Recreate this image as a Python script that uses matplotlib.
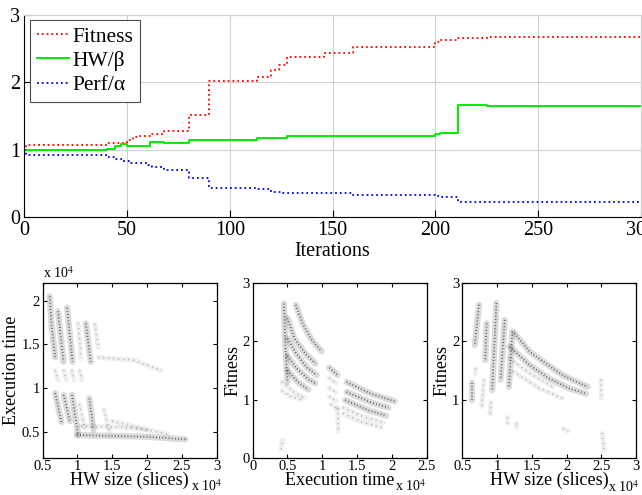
import matplotlib
matplotlib.use('Agg')
import matplotlib.pyplot as plt

plt.rcParams['font.family'] = ['Liberation Serif', 'DejaVu Serif']
plt.rcParams['mathtext.fontset'] = 'stix'

# ---- top panel: step curves (iteration where value changes, value) ----
fit_x = [0, 1, 40, 50, 53, 56, 62, 68, 80, 90, 113, 120, 124, 128, 146, 160, 200, 202, 211, 225, 300]
fit_y = [1.0, 1.07, 1.1, 1.15, 1.19, 1.21, 1.24, 1.28, 1.52, 2.02, 2.08, 2.19, 2.26, 2.37, 2.43, 2.52,
         2.6, 2.63, 2.66, 2.67, 2.67]
hw_x = [0, 40, 44, 47, 50, 61, 68, 80, 85, 113, 128, 147, 162, 200, 202, 211, 225, 300]
hw_y = [1.0, 1.02, 1.06, 1.09, 1.06, 1.11, 1.1, 1.14, 1.15, 1.17, 1.2, 1.2, 1.21, 1.23, 1.25, 1.66,
        1.65, 1.65]
perf_x = [0, 1, 40, 44, 48, 52, 60, 62, 68, 80, 90, 113, 120, 126, 160, 200, 203, 211, 300]
perf_y = [1.0, 0.93, 0.9, 0.86, 0.83, 0.8, 0.77, 0.74, 0.7, 0.59, 0.44, 0.42, 0.38, 0.355, 0.336,
          0.316, 0.3, 0.23, 0.23]

# ---- bottom panels: point stripes (x1e4 units) ----
# HW size vs execution time
p1_dense = [
    [(0.60, 2.05), (0.63, 1.70), (0.68, 1.35)],
    [(0.72, 1.88), (0.80, 1.30)],
    [(0.85, 1.92), (0.93, 1.30)],
    [(1.12, 1.74), (1.19, 1.30)],
    [(0.68, 0.94), (0.77, 0.61)],
    [(0.80, 0.92), (0.89, 0.62)],
    [(0.92, 0.92), (1.01, 0.46)],
    [(1.17, 0.88), (1.23, 0.52)],
    [(0.99, 0.46), (1.5, 0.45), (2.0, 0.44), (2.55, 0.41)],
]
p1_sparse = [
    [(1.01, 1.74), (1.05, 1.34)],
    [(1.25, 1.73), (1.30, 1.46)],
    [(0.68, 1.20), (0.72, 1.09)],
    [(0.80, 1.20), (0.84, 1.09)],
    [(0.92, 1.20), (0.95, 1.09)],
    [(1.03, 1.20), (1.06, 1.09)],
    [(1.3, 1.35), (1.8, 1.32), (2.2, 1.20)],
    [(1.03, 0.81), (1.10, 0.54)],
    [(1.38, 0.75), (1.46, 0.50)],
    [(1.05, 0.56), (1.6, 0.55), (2.0, 0.52)],
    [(1.5, 0.62), (2.0, 0.52), (2.3, 0.47)],
]
# execution time vs fitness
p2_dense = [
    [(0.45, 2.65), (0.46, 2.2), (0.48, 1.7), (0.50, 1.3)],
    [(0.62, 2.63), (0.72, 2.3), (0.85, 2.02), (0.99, 1.83)],
    [(0.50, 2.4), (0.60, 2.05), (0.75, 1.8), (0.90, 1.62)],
    [(0.50, 2.05), (0.62, 1.8), (0.78, 1.55), (0.92, 1.42)],
    [(0.50, 1.75), (0.62, 1.55), (0.80, 1.35), (0.90, 1.28)],
    [(0.50, 1.5), (0.65, 1.3), (0.80, 1.17)],
    [(1.35, 1.3), (1.7, 1.1), (2.04, 0.97)],
    [(1.35, 1.13), (1.7, 0.95), (1.95, 0.86)],
    [(1.33, 0.99), (1.65, 0.82), (1.92, 0.72)],
    [(1.10, 1.55), (1.22, 1.42)],
]
p2_sparse = [
    [(0.42, 1.3), (0.60, 1.12), (0.75, 1.03)],
    [(0.42, 1.15), (0.55, 1.05), (0.70, 1.0)],
    [(0.41, 0.15), (0.43, 0.30)],
    [(1.30, 0.86), (1.6, 0.70), (1.88, 0.60)],
    [(1.30, 0.76), (1.55, 0.62), (1.85, 0.52)],
    [(1.10, 1.37), (1.20, 1.28)],
    [(1.10, 1.20), (1.20, 1.12)],
    [(1.10, 1.05), (1.20, 0.97)],
    [(1.12, 0.92), (1.22, 0.84)],
    [(1.22, 0.85), (1.23, 0.45)],
]
# HW size vs fitness
p3_dense = [
    [(0.74, 2.63), (0.68, 1.94)],
    [(0.64, 1.28), (0.64, 0.99)],
    [(0.85, 2.31), (0.83, 1.68)],
    [(0.99, 2.66), (0.93, 1.16)],
    [(1.11, 2.37), (1.05, 1.34)],
    [(1.22, 2.17), (1.17, 1.22)],
    [(1.25, 2.14), (1.47, 1.82), (1.7, 1.62), (1.94, 1.42), (2.13, 1.31), (2.3, 1.22)],
    [(1.18, 1.91), (1.47, 1.59), (1.75, 1.36), (2.04, 1.19), (2.28, 1.10)],
]
p3_sparse = [
    [(0.68, 1.55), (0.68, 1.45)],
    [(0.81, 1.34), (0.78, 0.88)],
    [(0.91, 0.95), (0.90, 0.75)],
    [(1.14, 0.70), (1.14, 0.60)],
    [(1.27, 0.60), (1.27, 0.52)],
    [(1.18, 1.71), (1.47, 1.45), (1.8, 1.22)],
    [(1.23, 1.48), (1.61, 1.19), (1.94, 1.02)],
    [(2.49, 1.34), (2.50, 1.02)],
    [(2.51, 0.42), (2.54, 0.13)],
    [(1.95, 0.50), (2.02, 0.46)],
]

fig = plt.figure(figsize=(6.42, 4.95), dpi=100)

# top panel
ax = fig.add_axes([0.0379, 0.561, 0.9605, 0.4087])
ax.plot(fit_x, fit_y, color='#ff0000', ls=':', lw=1.3, drawstyle='steps-post', label='Fitness')
ax.plot(hw_x, hw_y, color='#00ee00', ls='-', lw=1.4, drawstyle='steps-post', label='HW/β')
ax.plot(perf_x, perf_y, color='#0000ff', ls=':', lw=1.3, drawstyle='steps-post', label='Perf/α')
ax.set_xlim(0, 300)
ax.set_ylim(0, 3)
ax.set_xticks([0, 50, 100, 150, 200, 250, 300])
ax.set_yticks([0, 1, 2, 3])
ax.grid(True, color='0.82', lw=0.8)
ax.tick_params(direction='in', labelsize=14.5, length=5, pad=3)
ax.spines['top'].set_color('0.82')
ax.spines['right'].set_color('0.82')
ax.set_xlabel('Iterations', fontsize=14.5, labelpad=1)
leg = ax.legend(loc='upper left', bbox_to_anchor=(0.01, 0.975), borderaxespad=0, fontsize=15.5,
                handlelength=1.5, handletextpad=0.15, labelspacing=0.2, borderpad=0.3,
                fancybox=False, framealpha=1)
leg.get_frame().set_edgecolor('0.3')
leg.get_frame().set_linewidth(0.8)


def cloud(ax, dense, sparse):
    for s in dense:
        xs, ys = zip(*s)
        ax.plot(xs, ys, color='0.3', lw=4.5, alpha=0.2, solid_capstyle='round')
        ax.plot(xs, ys, color='0.15', lw=1.2, ls=(0, (0.6, 1.3)), alpha=0.7)
    for s in sparse:
        xs, ys = zip(*s)
        ax.plot(xs, ys, color='0.4', lw=3.5, alpha=0.1, solid_capstyle='round')
        ax.plot(xs, ys, color='0.3', lw=1.0, ls=(0, (0.6, 3)), alpha=0.5)


def style(ax, xt, yt, xl, yl):
    ax.set_xticks(xt)
    ax.set_yticks(yt)
    ax.set_xticklabels([('%g' % v) for v in xt])
    ax.set_yticklabels([('%g' % v) for v in yt])
    ax.tick_params(direction='in', top=True, right=True, labelsize=10.5, length=3, pad=2)
    ax.set_xlabel(xl, fontsize=13, labelpad=-1)
    ax.set_ylabel(yl, fontsize=13, labelpad=1)
    for sp in ax.spines.values():
        sp.set_linewidth(0.9)


ax1 = fig.add_axes([0.0665, 0.0754, 0.271, 0.3523])
cloud(ax1, p1_dense, p1_sparse)
ax1.set_xlim(0.5, 3)
ax1.set_ylim(0.2, 2.2)
style(ax1, [0.5, 1, 1.5, 2, 2.5, 3], [0.5, 1, 1.5, 2], 'HW size (slices)', 'Execution time')
ax1.text(0.0, 1.015, 'x 10$^4$', transform=ax1.transAxes, fontsize=10, ha='left', va='bottom')
ax1.text(0.85, -0.165, 'x 10$^4$', transform=ax1.transAxes, fontsize=10, ha='left', va='center')

ax2 = fig.add_axes([0.3936, 0.0754, 0.271, 0.3523])
cloud(ax2, p2_dense, p2_sparse)
ax2.set_xlim(0, 2.5)
ax2.set_ylim(0, 3)
style(ax2, [0, 0.5, 1, 1.5, 2, 2.5], [0, 1, 2, 3], 'Execution time', 'Fitness')
ax2.text(0.82, -0.165, 'x 10$^4$', transform=ax2.transAxes, fontsize=10, ha='left', va='center')

ax3 = fig.add_axes([0.7201, 0.0754, 0.271, 0.3523])
cloud(ax3, p3_dense, p3_sparse)
ax3.set_xlim(0.5, 3)
ax3.set_ylim(0, 3)
style(ax3, [0.5, 1, 1.5, 2, 2.5, 3], [1, 2, 3], 'HW size (slices)', 'Fitness')
ax3.text(0.84, -0.17, 'x 10$^4$', transform=ax3.transAxes, fontsize=10, ha='left', va='center')

fig.savefig('out.png', dpi=100)
